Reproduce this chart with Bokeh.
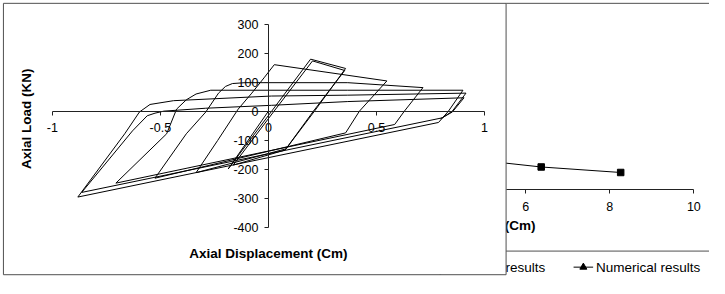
import math
from bokeh.plotting import figure
from bokeh.models import Range1d, LinearAxis, FixedTicker, CustomJSTickFormatter
from bokeh.core.properties import value
from bokeh.embed import file_html
from bokeh.resources import INLINE

# ---------------- data ----------------
# front chart: hysteresis loops, axial displacement (Cm) vs axial load (KN)
disp_cm = [0.000, -0.186,
           0.005, 0.195, 0.357, 0.213, 0.077, -0.163, 0.023, 0.204, 0.353, 0.208, 0.081, -0.335,
           -0.235, -0.140, -0.077, -0.018, 0.027, 0.548, 0.421, 0.357, -0.525,
           -0.380, -0.290, -0.231, -0.199, -0.167, -0.109, 0.367, 0.715, 0.629, 0.584, -0.706,
           -0.471, -0.425, -0.380, -0.335, -0.267, 0.367, 0.900, 0.833, 0.787, -0.882,
           -0.665, -0.597, -0.548, -0.439, 0.014, 0.367, 0.914, 0.851, 0.805, -0.864,
           -0.629, -0.561, -0.525, -0.484, -0.290, 0.014, 0.367, 0.905, 0.851, 0.796]
load_kn = [0, -199,
           -10, 179, 147, 0, -134, -186, -3, 173, 140, 0, -130, -212,
           -101, 7, 62, 117, 160, 104, 0, -75, -231,
           -78, -3, 62, 85, 95, 98, 98, 81, 0, -46, -248,
           -78, 7, 39, 59, 72, 72, 72, 0, -39, -296,
           -78, -3, 23, 36, 52, 55, 62, 0, -23, -280,
           -68, -16, -7, 0, 10, 20, 33, 46, -3, -26]
x_ticks = [-1, -0.5, 0, 0.5, 1]
y_ticks = [-400, -300, -200, -100, 0, 100, 200, 300]

# back chart (mostly hidden): experimental results
back_disp = [0.9, 2.6, 4.4, 6.37, 8.26]
back_load = [210, 150, 109, 78, 59]
back_ticks = [6, 8, 10]

# ---------------- layout (reference pixels of a 725x294 picture) ----------------
W, H = 709, 278
REF_W, REF_H = 725, 294
X0, PX_CM = 274, 221.0      # front: x=0 at px 274, 221 px per Cm
Y0, PX_KN = 117, 0.307      # front: y=0 at py 117, 0.307 px per KN
BX0, BPX = 537, 43.0        # back: x=6 at px 537, 43 px per unit
BY0 = 200                   # back: y=0 at py 200


def fx(px):
    return (px - X0) / PX_CM


def fy(py):
    return (Y0 - py) / PX_KN


def bx(px):
    return 6 + (px - BX0) / BPX


def by(py):
    return (BY0 - py) / PX_KN


FONT = "Liberation Sans"
AX_COL = "#222222"
BOX_COL = "#505050"

p = figure(width=W, height=H, output_backend="svg", toolbar_location=None,
           x_range=Range1d(fx(0), fx(REF_W)), y_range=Range1d(fy(REF_H), fy(0)),
           x_axis_type=None, y_axis_type=None, min_border=0,
           min_border_left=0, min_border_right=0, min_border_top=0, min_border_bottom=0)
p.outline_line_color = None
p.background_fill_color = "white"
p.border_fill_color = "white"
p.extra_x_ranges = {"bx": Range1d(bx(0), bx(REF_W))}
p.extra_y_ranges = {"by": Range1d(by(REF_H), by(0))}

# ---------------- back chart (drawn first, partly covered) ----------------
p.line(back_disp, back_load, x_range_name="bx", y_range_name="by",
       line_color="black", line_width=1)
p.scatter(back_disp, back_load, x_range_name="bx", y_range_name="by",
          marker="square", size=6.5, fill_color="black", line_color="black")

# back chart frame lines
p.line([bx(517), bx(REF_W + 5)], [by(3), by(3)], x_range_name="bx", y_range_name="by",
       line_color=BOX_COL, line_width=1)
p.line([bx(517), bx(REF_W + 5)], [by(265), by(265)], x_range_name="bx", y_range_name="by",
       line_color=BOX_COL, line_width=1)

# back axis title and legend
p.text([bx(547)], [by(238)], text=["Axial Displacement (Cm)"], x_range_name="bx", y_range_name="by",
       text_align="right", text_baseline="middle", text_font=value(FONT),
       text_font_size="13.5px", text_font_style="bold", text_color="black")
p.text([bx(557)], [by(282)], text=["Experimental results"], x_range_name="bx", y_range_name="by",
       text_align="right", text_baseline="middle", text_font=value(FONT),
       text_font_size="13.5px", text_color="black")
p.line([bx(586), bx(606)], [by(282), by(282)], x_range_name="bx", y_range_name="by",
       line_color="black", line_width=1)
p.scatter([bx(596)], [by(282)], x_range_name="bx", y_range_name="by",
          marker="triangle", size=7, fill_color="black", line_color="black")
p.text([bx(609)], [by(282)], text=["Numerical results"], x_range_name="bx", y_range_name="by",
       text_align="left", text_baseline="middle", text_font=value(FONT),
       text_font_size="13.5px", text_color="black")

bxa = LinearAxis(x_range_name="bx", y_range_name="by", fixed_location=0,
                 bounds=(bx(517), 10),
                 ticker=FixedTicker(ticks=back_ticks, minor_ticks=[]),
                 formatter=CustomJSTickFormatter(code="return tick.toString()"))
p.add_layout(bxa, "below")

# ---------------- front chart box ----------------
p.quad(left=[fx(3)], right=[fx(517)], top=[fy(3)], bottom=[fy(290)],
       fill_color="white", line_color=BOX_COL, line_width=1)

# hysteresis loops
p.line(disp_cm, load_kn, line_color="black", line_width=1)

# axis titles
p.text([fx(274)], [fy(268)], text=["Axial Displacement (Cm)"],
       text_align="center", text_baseline="middle", text_font=value(FONT),
       text_font_size="13.5px", text_font_style="bold", text_color="black")
p.text([fx(27)], [fy(125)], text=["Axial Load (KN)"], angle=math.pi / 2,
       text_align="center", text_baseline="middle", text_font=value(FONT),
       text_font_size="13.5px", text_font_style="bold", text_color="black")

xa = LinearAxis(fixed_location=0, bounds=(-1, 1),
                ticker=FixedTicker(ticks=x_ticks, minor_ticks=[]),
                formatter=CustomJSTickFormatter(code="return tick.toString()"))
p.add_layout(xa, "below")
ya = LinearAxis(fixed_location=0, bounds=(-400, 300),
                ticker=FixedTicker(ticks=y_ticks, minor_ticks=[]),
                formatter=CustomJSTickFormatter(code="return tick.toString()"))
p.add_layout(ya, "left")

for ax, standoff in ((xa, 8), (ya, 6), (bxa, 8)):
    ax.axis_line_color = AX_COL
    ax.axis_line_width = 1
    ax.major_tick_line_color = AX_COL
    ax.major_tick_in = 0
    ax.major_tick_out = 4
    ax.minor_tick_in = 0
    ax.minor_tick_out = 0
    ax.major_label_standoff = standoff
    ax.major_label_text_font = FONT
    ax.major_label_text_font_size = "12.5px"
    ax.major_label_text_color = "black"

open("out.html", "w").write(file_html(p, INLINE))
